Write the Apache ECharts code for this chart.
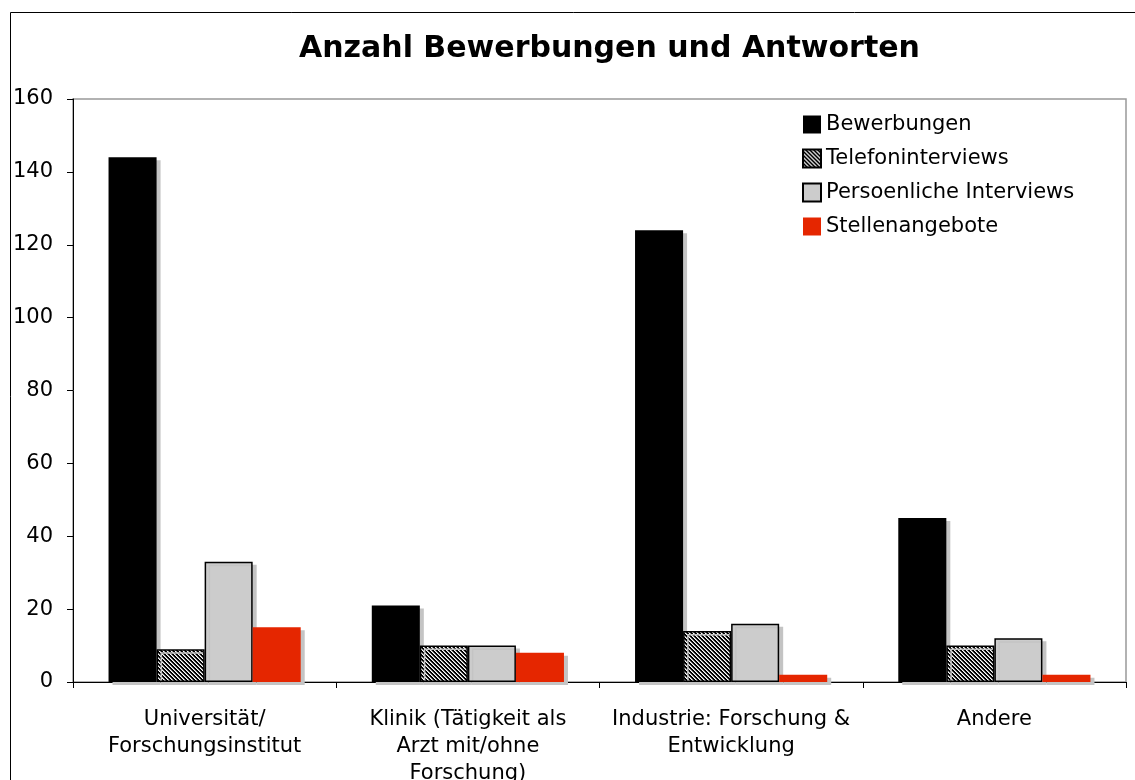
<!DOCTYPE html>
<html>
<head>
<meta charset="utf-8">
<script src="https://cdn.jsdelivr.net/npm/echarts@6/dist/echarts.min.js"></script>
<style>
  html, body { margin: 0; padding: 0; background: #fff; }
  #chart { width: 1135px; height: 780px; }
</style>
</head>
<body>
<div id="chart"></div>
<script>
// Daten
const categories = [
    'Universität/\nForschungsinstitut',
    'Klinik (Tätigkeit als\nArzt mit/ohne\nForschung)',
    'Industrie: Forschung &\nEntwicklung',
    'Andere'
];
const bewerbungen = [144, 21, 124, 45];
const telefoninterviews = [9, 10, 14, 10];
const persoenlicheInterviews = [33, 10, 16, 12];
const stellenangebote = [15, 8, 2, 2];
const seriesNames = ['Bewerbungen', 'Telefoninterviews', 'Persoenliche Interviews', 'Stellenangebote'];

// Schraffur fuer Telefoninterviews
function makeHatch() {
    const c = document.createElement('canvas');
    c.width = 4;
    c.height = 4;
    const ctx = c.getContext('2d');
    ctx.fillStyle = '#000';
    ctx.fillRect(0, 0, 4, 4);
    for (let y = 0; y < 4; y++) {
        for (let x = 0; x < 4; x++) {
            const d = ((x - y) % 4 + 4) % 4;
            if (d === 0) {
                ctx.fillStyle = '#fff';
                ctx.fillRect(x, y, 1, 1);
            } else if (d === 1) {
                ctx.fillStyle = '#999';
                ctx.fillRect(x, y, 1, 1);
            }
        }
    }
    return c;
}

const shadow = { shadowColor: '#c4c4c4', shadowBlur: 0, shadowOffsetX: 4, shadowOffsetY: 3 };

function barSeries(name, data, style) {
    return {
        name: name,
        type: 'bar',
        data: data,
        barGap: '0%',
        barCategoryGap: '27%',
        itemStyle: Object.assign({}, shadow, style),
        emphasis: { disabled: true }
    };
}

const chart = echarts.init(document.getElementById('chart'));
chart.setOption({
    animation: false,
    textStyle: { fontFamily: 'DejaVu Sans', color: '#000' },
    title: {
        text: 'Anzahl Bewerbungen und Antworten',
        left: 294,
        top: 29,
        textStyle: { fontFamily: 'DejaVu Sans', fontWeight: 'bold', fontSize: 30, color: '#000' }
    },
    graphic: [{
        type: 'rect',
        shape: { x: 10.5, y: 12.5, width: 1200, height: 900 },
        style: { fill: 'none', stroke: '#000', lineWidth: 1 },
        silent: true
    }],
    legend: {
        orient: 'vertical',
        left: 802,
        top: 114,
        padding: 0,
        itemWidth: 18,
        itemHeight: 18,
        itemGap: 13,
        icon: 'rect',
        textStyle: { fontSize: 21, color: '#000' },
        itemStyle: { shadowColor: 'transparent', shadowOffsetX: 0, shadowOffsetY: 0 },
        data: seriesNames
    },
    grid: {
        left: 73,
        right: 9,
        top: 99,
        bottom: 98,
        outerBoundsMode: 'none',
        show: true,
        borderColor: '#999',
        borderWidth: 1.5
    },
    xAxis: {
        type: 'category',
        data: categories,
        axisLine: { lineStyle: { color: '#000', width: 1 } },
        axisTick: { show: true, alignWithLabel: false, length: 6, lineStyle: { color: '#000' } },
        axisLabel: { fontSize: 21, color: '#000', lineHeight: 27, margin: 24, interval: 0 }
    },
    yAxis: {
        type: 'value',
        min: 0,
        max: 160,
        interval: 20,
        axisLine: { show: true, lineStyle: { color: '#000', width: 1 } },
        axisTick: { show: true, length: 6, lineStyle: { color: '#000' } },
        splitLine: { show: false },
        axisLabel: { fontSize: 21, color: '#000', margin: 20 }
    },
    series: [
        barSeries(seriesNames[0], bewerbungen, { color: '#000' }),
        barSeries(seriesNames[1], telefoninterviews, { color: { image: makeHatch(), repeat: 'repeat' }, borderColor: '#000', borderWidth: 1.5 }),
        barSeries(seriesNames[2], persoenlicheInterviews, { color: '#cccccc', borderColor: '#000', borderWidth: 1.5 }),
        barSeries(seriesNames[3], stellenangebote, { color: '#e52600' })
    ]
});
</script>
</body>
</html>
